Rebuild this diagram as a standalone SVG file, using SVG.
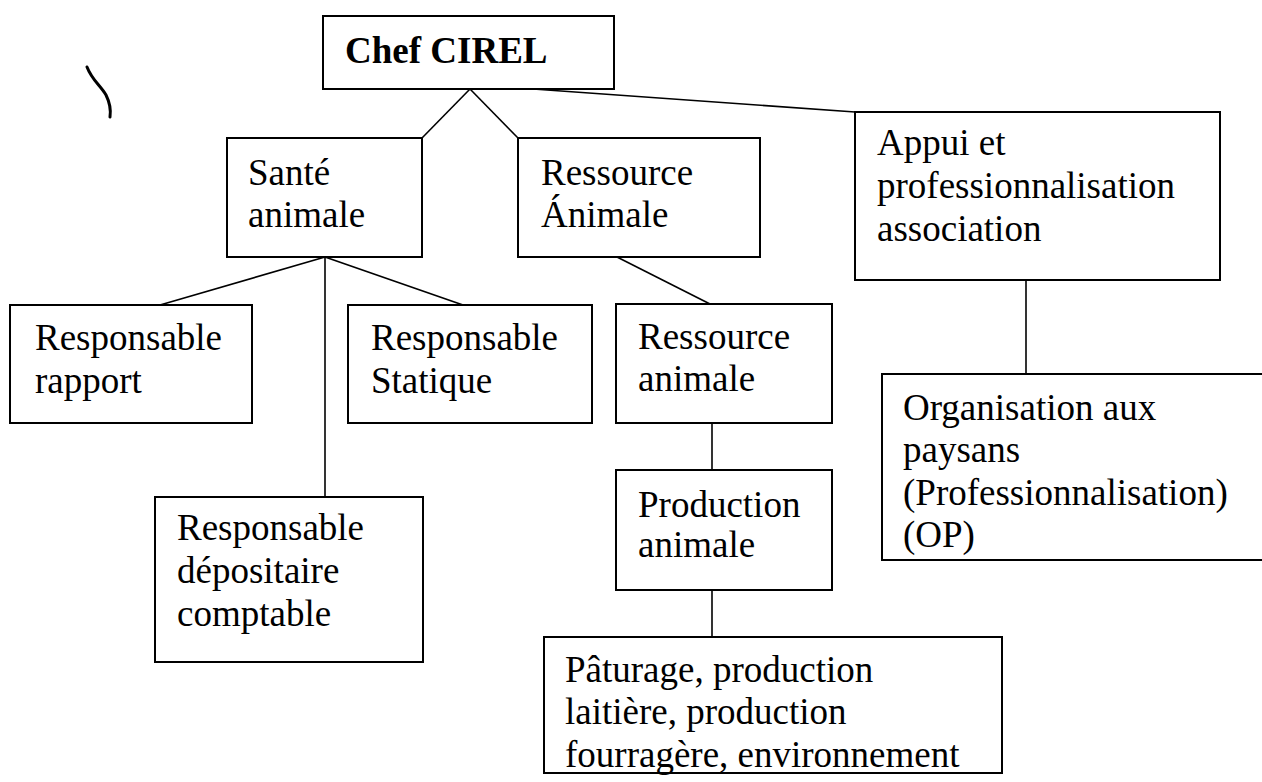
<svg xmlns="http://www.w3.org/2000/svg" width="1262" height="782" viewBox="0 0 1262 782">
<style>
.box{fill:#fff;stroke:#000;stroke-width:2}
.t{font-size:37px;fill:#000}
.b{font-weight:bold}
.c line{stroke:#000;stroke-width:1.6}
</style>
<rect width="1262" height="782" fill="#fff"/>
<g class="c" id="connectors">
<line x1="470" y1="89" x2="422" y2="138"/>
<line x1="470" y1="89" x2="518" y2="138"/>
<line x1="533" y1="89" x2="855" y2="112"/>
<line x1="325" y1="257" x2="160" y2="305"/>
<line x1="325" y1="257" x2="463" y2="305"/>
<line x1="325" y1="257" x2="325" y2="497"/>
<line x1="617" y1="257" x2="710" y2="304"/>
<line x1="712" y1="423" x2="712" y2="470"/>
<line x1="712" y1="590" x2="712" y2="637"/>
<line x1="1026" y1="280" x2="1026" y2="374"/>
</g>
<g font-family="Liberation Serif, DejaVu Serif, serif">
<g id="chef"><rect class="box" x="323" y="16" width="291" height="73"/><text class="t b" x="345" y="63">Chef CIREL</text></g>
<g id="sante"><rect class="box" x="227" y="138" width="195" height="119"/><text class="t" x="248" y="185">Santé</text><text class="t" x="248" y="227">animale</text></g>
<g id="ressource-A"><rect class="box" x="518" y="138" width="242" height="119"/><text class="t" x="541" y="185">Ressource</text><text class="t" x="541" y="227">Ánimale</text></g>
<g id="appui"><rect class="box" x="855" y="112" width="365" height="168"/><text class="t" x="877" y="155">Appui et</text><text class="t" x="877" y="198">professionnalisation</text><text class="t" x="877" y="241">association</text></g>
<g id="rapport"><rect class="box" x="10" y="305" width="242" height="118"/><text class="t" x="35" y="350">Responsable</text><text class="t" x="35" y="393">rapport</text></g>
<g id="statique"><rect class="box" x="348" y="305" width="244" height="118"/><text class="t" x="371" y="350">Responsable</text><text class="t" x="371" y="393">Statique</text></g>
<g id="ressource-a"><rect class="box" x="616" y="304" width="216" height="119"/><text class="t" x="638" y="349">Ressource</text><text class="t" x="638" y="391">animale</text></g>
<g id="depositaire"><rect class="box" x="155" y="497" width="268" height="165"/><text class="t" x="177" y="540">Responsable</text><text class="t" x="177" y="583">dépositaire</text><text class="t" x="177" y="626">comptable</text></g>
<g id="production"><rect class="box" x="616" y="470" width="216" height="120"/><text class="t" x="638" y="517">Production</text><text class="t" x="638" y="557">animale</text></g>
<g id="paturage"><rect class="box" x="544" y="637" width="458" height="136"/><text class="t" x="565" y="682">Pâturage, production</text><text class="t" x="565" y="724">laitière, production</text><text class="t" x="565" y="767">fourragère, environnement</text></g>
<g id="organisation"><rect class="box" x="882" y="374" width="390" height="186"/><text class="t" x="903" y="420">Organisation aux</text><text class="t" x="903" y="462">paysans</text><text class="t" x="903" y="505">(Professionnalisation)</text><text class="t" x="903" y="547">(OP)</text></g>
</g>
<path d="M87,67 C92,80 100,85 106,95 C110,103 111,110 110,117" fill="none" stroke="#000" stroke-width="3" stroke-linecap="round"/>
</svg>
